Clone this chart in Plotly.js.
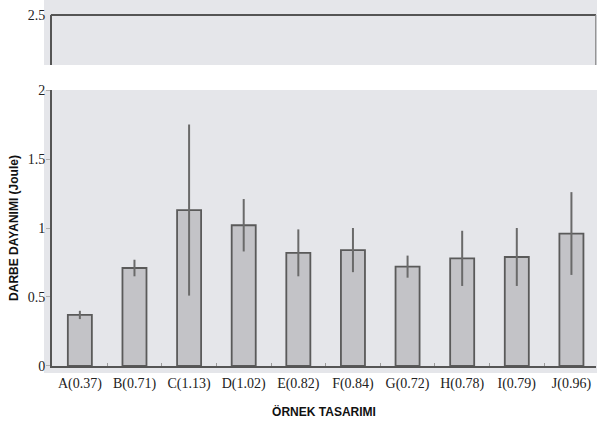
<!DOCTYPE html>
<html>
<head>
<meta charset="utf-8">
<script src="https://cdn.plot.ly/plotly-3.0.1.min.js"></script>
<style>html,body{margin:0;padding:0;background:#fff;}#chart{width:597px;height:425px;}</style>
</head>
<body>
<div id="chart"></div>
<script>
// Data
const categories = ["A(0.37)", "B(0.71)", "C(1.13)", "D(1.02)", "E(0.82)", "F(0.84)", "G(0.72)", "H(0.78)", "I(0.79)", "J(0.96)"];
const means = [0.37, 0.71, 1.13, 1.02, 0.82, 0.84, 0.72, 0.78, 0.79, 0.96];
const errors = [0.03, 0.06, 0.62, 0.19, 0.17, 0.16, 0.08, 0.20, 0.21, 0.30];
const yTicks = [0, 0.5, 1, 1.5, 2];
const yTicksUpper = [2.5];

const serif = "Liberation Serif, Times New Roman, serif";
const sans = "Liberation Sans, Arial, sans-serif";
const axisCol = "#555";
const bgCol = "#e5e6ea";

const traces = [
  {
    type: "bar",
    x: categories,
    y: means,
    width: 0.44,
    marker: { color: "#c3c3c7", line: { color: "#5a5a5a", width: 1.8 } },
    error_y: { type: "data", array: errors, visible: true, color: "#6a6a6a", thickness: 2, width: 0 },
    xaxis: "x", yaxis: "y",
    hoverinfo: "x+y"
  },
  { type: "scatter", x: [], y: [], xaxis: "x", yaxis: "y2", showlegend: false }
];

const layout = {
  width: 597, height: 425,
  margin: { l: 52, r: 1, t: 15, b: 59 },
  paper_bgcolor: "#ffffff",
  plot_bgcolor: "rgba(0,0,0,0)",
  showlegend: false,
  xaxis: {
    type: "category",
    range: [-0.51, 9.45],
    showline: true, linecolor: axisCol, linewidth: 2,
    ticks: "inside", tickson: "boundaries", ticklen: 3, tickcolor: "#9a9a9a",
    showgrid: false, zeroline: false,
    ticklabelstandoff: 3,
    tickfont: { family: serif, size: 14, color: "#222" },
    title: { text: "<b>ÖRNEK TASARIMI</b>", font: { family: sans, size: 12, color: "#111" }, standoff: 17 },
    automargin: false
  },
  yaxis: {
    domain: [0, 0.7863],
    range: [0, 2],
    tickvals: yTicks,
    ticktext: yTicks.map(String),
    showline: true, linecolor: axisCol, linewidth: 2,
    ticks: "outside", ticklen: 4, tickcolor: "#b0b0b0",
    showgrid: false, zeroline: false,
    ticklabelstandoff: -2,
    tickfont: { family: serif, size: 14, color: "#222" },
    title: { text: "<b>DARBE DAYANIMI (Joule)</b>", font: { family: sans, size: 12, color: "#111" }, standoff: 6 },
    automargin: false
  },
  yaxis2: {
    domain: [0.8575, 1],
    range: [2.138, 2.5],
    anchor: "x",
    tickvals: yTicksUpper,
    ticktext: yTicksUpper.map(String),
    showline: true, linecolor: axisCol, linewidth: 2,
    ticks: "outside", ticklen: 4, tickcolor: "rgba(0,0,0,0)",
    ticklabelstandoff: -2,
    showgrid: false, zeroline: false,
    tickfont: { family: serif, size: 14, color: "#222" },
    automargin: false
  },
  shapes: [
    { type: "rect", xref: "paper", yref: "paper", x0: -0.0147, x1: 1.002, y0: -0.0199, y1: 0.7863, layer: "below", fillcolor: bgCol, line: { width: 0 } },
    { type: "rect", xref: "paper", yref: "paper", x0: -0.0147, x1: 1.002, y0: 0.8575, y1: 1.0427, layer: "below", fillcolor: bgCol, line: { width: 0 } },
    { type: "line", xref: "paper", yref: "paper", x0: -0.002, x1: 1, y0: 1, y1: 1, line: { color: axisCol, width: 2 } },
    { type: "line", xref: "paper", yref: "paper", x0: 0.9995, x1: 0.9995, y0: 0.8575, y1: 1, line: { color: "#8a8a8a", width: 1.2 } }
  ]
};

Plotly.newPlot("chart", traces, layout, { displayModeBar: false, staticPlot: true });
</script>
</body>
</html>
